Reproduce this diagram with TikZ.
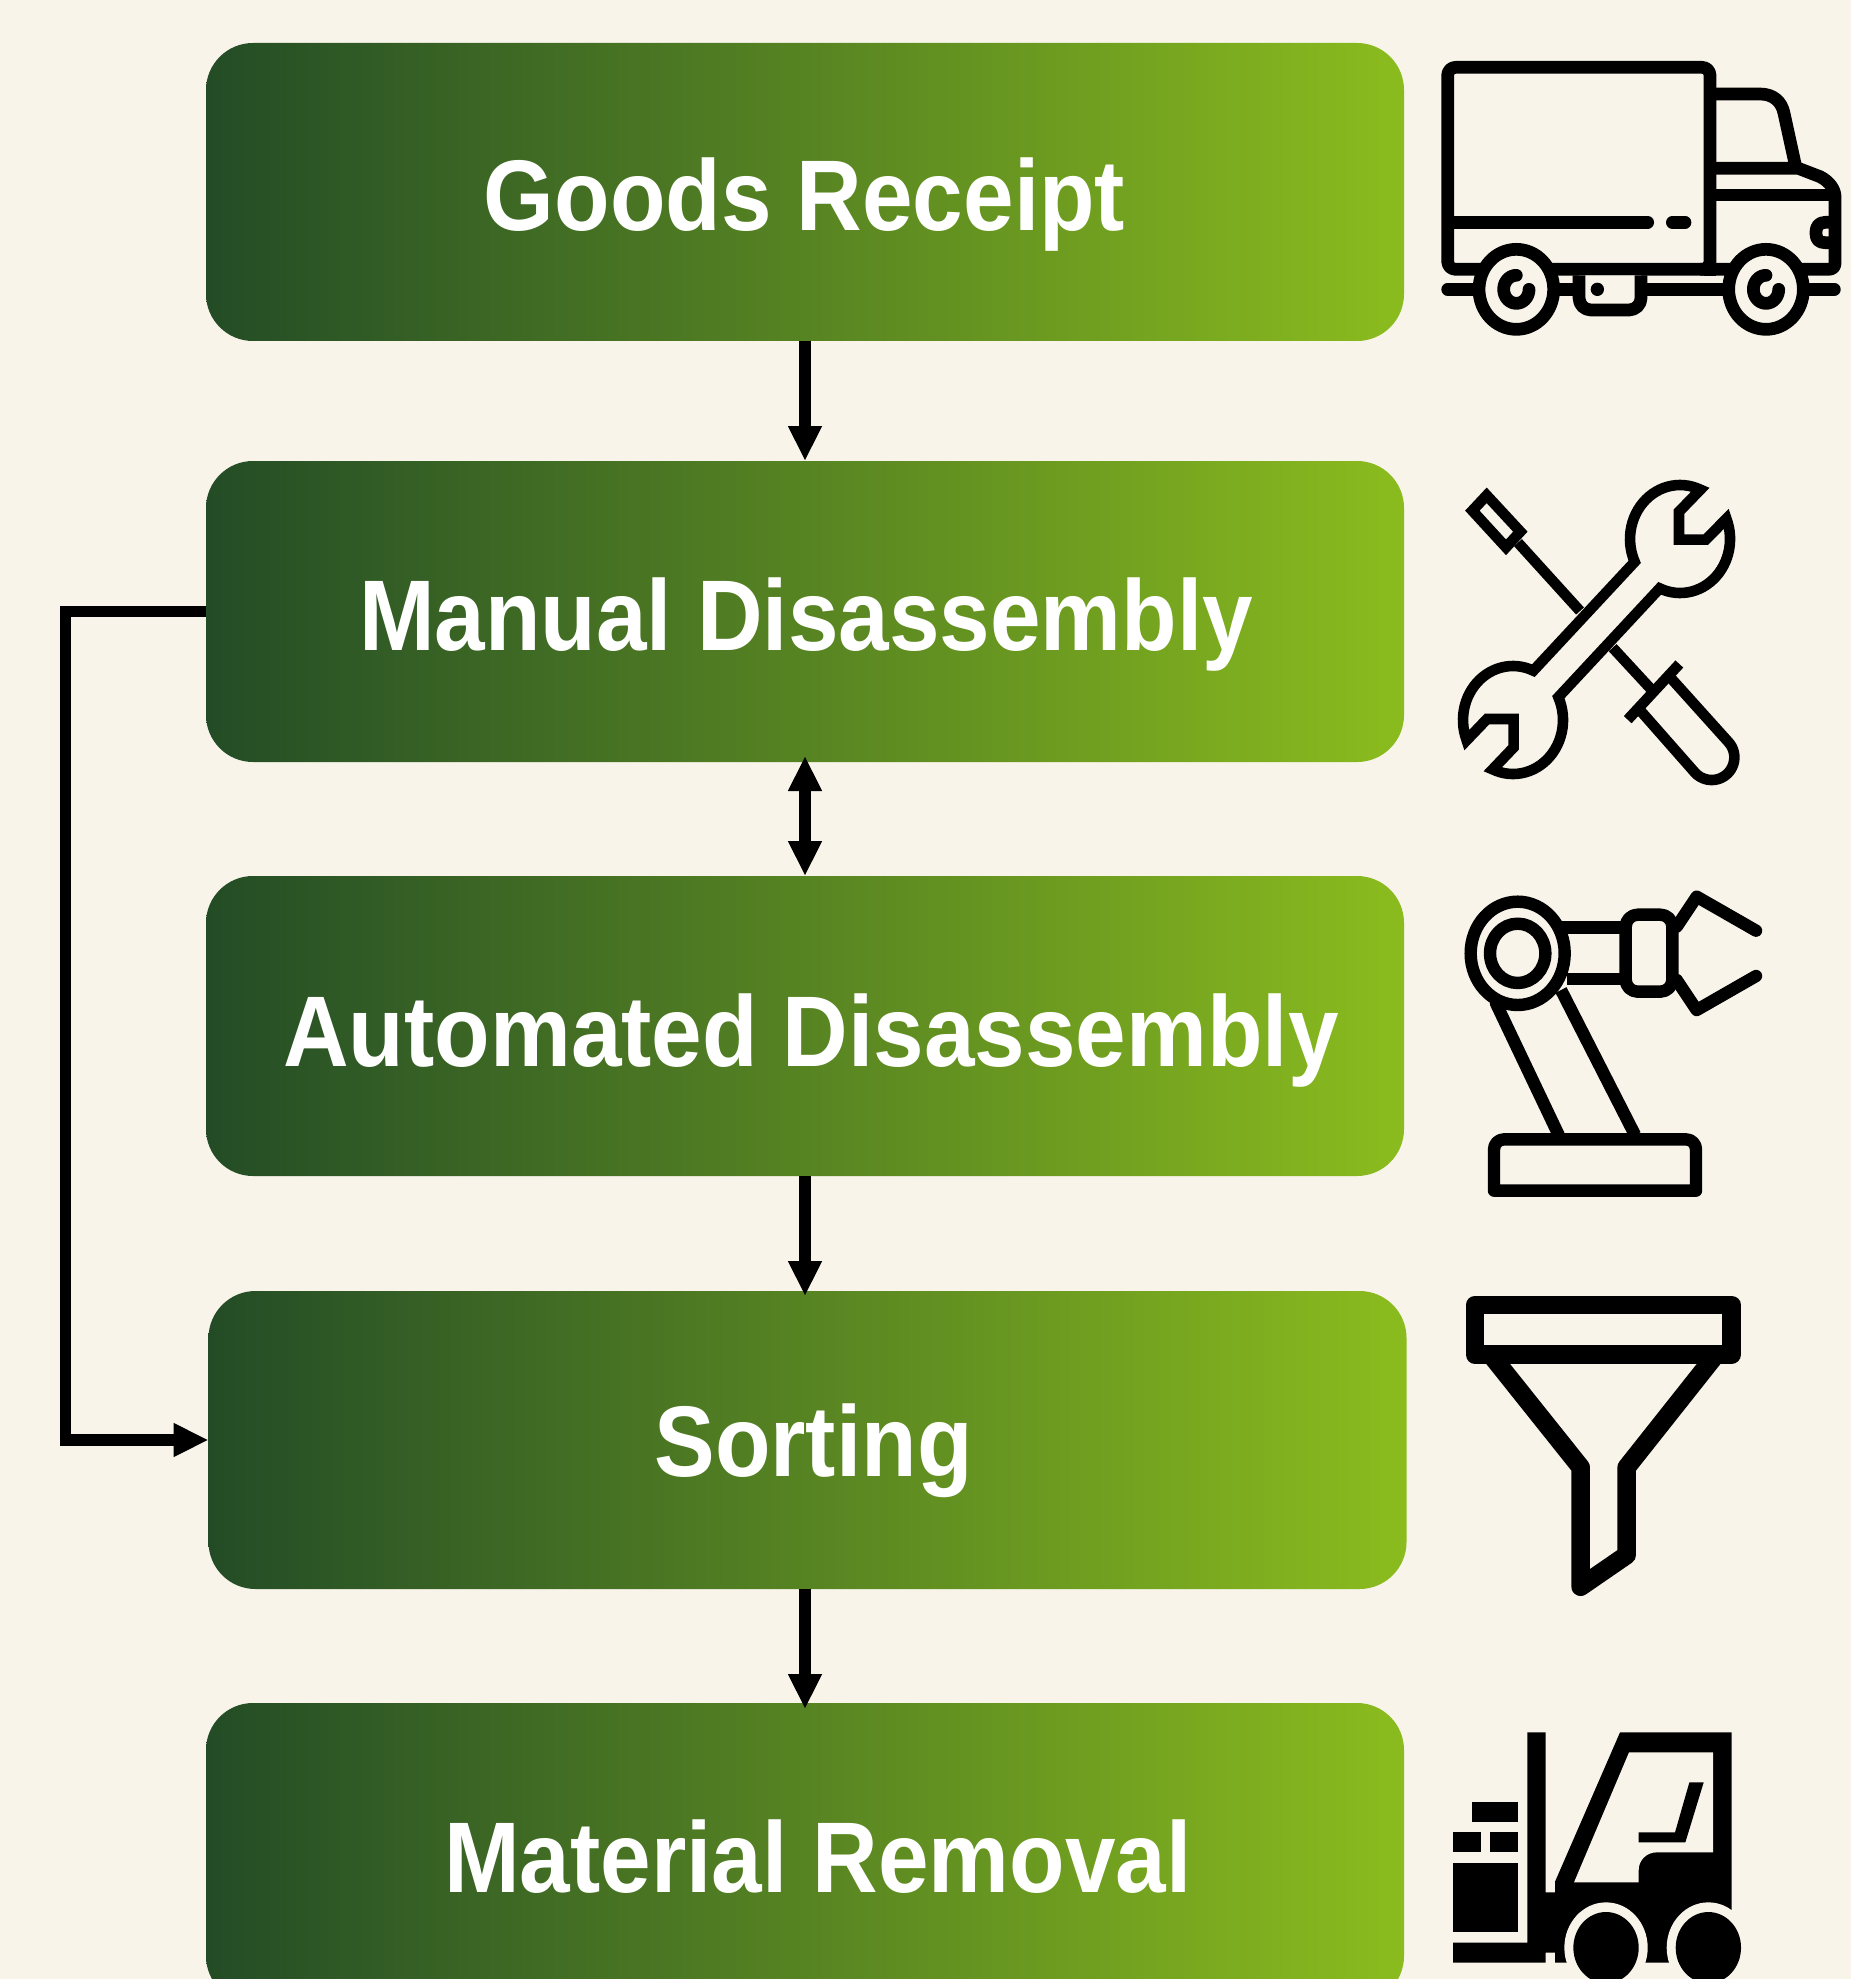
\documentclass[tikz,border=0pt]{standalone}
\usepackage{fontspec}
\setmainfont{Liberation Sans}[FakeStretch=0.905]
\usetikzlibrary{arrows.meta}
\definecolor{pagebg}{HTML}{F8F4E9}
\definecolor{gradL}{HTML}{234C26}
\definecolor{gradM}{HTML}{5A7A17}
\definecolor{gradR}{HTML}{8BBC1E}
\tikzset{
  stage/.style={rounded corners=23.5pt,left color=gradL,middle color=gradM,right color=gradR,draw=none,
    minimum width=599pt,inner sep=0pt,outer sep=0pt},
  stagetext/.style={anchor=base,text=white,font=\fontsize{50.2pt}{50.2pt}\selectfont\bfseries,inner sep=0pt},
  conn/.style={draw=black,line width=5.6pt,-{Triangle[width=15.8pt,length=17.5pt]}},
  icon/.style={shift={#1},x=0.16667pt,y=-0.16667pt},
  trk/.style={draw=black,line width=6.35pt,line join=round},
  tool/.style={draw=black,line width=5.3pt,line join=miter},
  rob/.style={draw=black,line width=6.2pt,line join=round},
  fun/.style={draw=black,line width=9.3pt,line join=round},
}
\begin{document}
\begin{tikzpicture}[x=0.5pt,y=-0.5pt]
\useasboundingbox (0,0) rectangle (1851,1979);
\clip (0,0) rectangle (1851,1979);
\fill[pagebg] (0,0) rectangle (1851,1979);

% stages
\node[stage,minimum height=149pt] (b1) at (805,192) {};
\node[stage,minimum height=150.5pt] (b2) at (805,611.5) {};
\node[stage,minimum height=150pt] (b3) at (805,1026) {};
\node[stage,minimum height=149pt] (b4) at (807.5,1440) {};
\node[stage,minimum height=150pt] (b5) at (805,1853) {};
\node[stagetext] (t1) at (804.5,231) {Goods Receipt};
\node[stagetext] (t2) at (806,650) {Manual Disassembly};
\node[stagetext] (t3) at (811,1066) {Automated Disassembly};
\node[stagetext] (t4) at (813.5,1476) {Sorting};
\node[stagetext] (t5) at (818,1892) {Material Removal};

% connectors
\coordinate (fa) at (65.5,611.5);
\coordinate (fb) at (65.5,1440);
\draw[conn] (b1.south) -- (b2.north);
\draw[conn,{Triangle[width=15.8pt,length=17.5pt]}-{Triangle[width=15.8pt,length=17.5pt]},shorten <=-3pt] (b2.south) -- (b3.north);
\draw[conn,shorten >=-2.5pt] (b3.south) -- (b4.north-|b3.south);
\draw[conn,shorten >=-3pt] (b4.south-|b5.north) -- (b5.north);
\draw[conn,line join=miter] (b2.west) -- (fa) -- (fb) -- (b4.west);

% truck
\begin{scope}[icon={(1420,30)}]
\draw[trk,rounded corners=4pt] (83,112) rectangle (870,718);
\draw[trk] (870,600) -- (870,737);
\draw[trk,line cap=round] (102,577) -- (683,577);
\draw[trk,line cap=round] (757,577) -- (795,577);
\draw[trk] (870,192) -- (1020,192) .. controls (1060,192) and (1085,215) .. (1092,250) -- (1127,410);
\draw[trk] (870,415) -- (1135,415) -- (1200,440) .. controls (1230,455) and (1245,480) .. (1245,500) -- (1245,700) .. controls (1245,712) and (1237,718) .. (1225,718) -- (840,718);
\draw[trk] (870,495) -- (1245,495);
\draw[trk] (1245,577) -- (1215,577) .. controls (1197,577) and (1188,590) .. (1188,605) -- (1188,612) .. controls (1188,628) and (1197,638) .. (1215,638) -- (1245,638);
\draw[trk,line cap=round] (83,778) -- (1243,778);
\draw[trk,fill=pagebg,rounded corners=6pt] (477,736) -- (477,840) -- (663,840) -- (663,736);
\fill[black] (532,778) circle [radius=20];
\draw[trk,fill=pagebg] (289,778) ellipse [x radius=112,y radius=120];
\draw[trk,fill=pagebg] (1038,778) ellipse [x radius=112,y radius=120];
\draw[trk,line cap=round] plot[domain=-90:-360,samples=40] ({289+38*cos(\x)},{778+42*sin(\x)});
\draw[trk,line cap=round] plot[domain=-90:-360,samples=40] ({1038+38*cos(\x)},{778+42*sin(\x)});
\end{scope}

% wrench and screwdriver
\begin{scope}[icon={(1420,460)}]
\draw[tool] (200,106) -- (301,215) -- (258,262) -- (157,152) -- cycle;
\draw[tool] (294,248) -- (480,453);
\draw[tool] (578,563) -- (700,695);
\draw[tool] (778,612) -- (623,779);
\draw[tool] (746,647) -- plot[domain=-42:138,samples=30] ({875+68*cos(\x)},{892+68*sin(\x)}) -- (655,745);
\draw[tool]
  plot[domain=155:294,samples=30] ({780+150*cos(\x)},{237+162*sin(\x)})
  -- (777,155) -- (777,239) -- (857,239)
  -- plot[domain=338:474,samples=30] ({780+150*cos(\x)},{237+162*sin(\x)})
  -- plot[domain=335:474,samples=30] ({279+150*cos(\x)},{780+162*sin(\x)})
  -- (281,862) -- (281,777) -- (201,777)
  -- plot[domain=518:654,samples=30] ({279+150*cos(\x)},{780+162*sin(\x)})
  -- cycle;
\end{scope}

% robot arm
\begin{scope}[icon={(1420,870)}]
\draw[rob] (425,172) -- (610,172);
\draw[rob] (440,327) -- (610,327);
\draw[rob] (293,250) ellipse [x radius=141,y radius=155];
\draw[rob] (293,250) ellipse [x radius=83,y radius=89];
\draw[rob,rounded corners=6pt] (617,134) rectangle (757,365);
\draw[rob,line cap=round] (770,170) -- (830,80) -- (1008,182);
\draw[rob,line cap=round] (770,330) -- (830,420) -- (1008,318);
\draw[rob,line cap=round] (228,400) -- (416,795);
\draw[rob] (423,360) -- (645,795);
\draw[rob] (222,962) -- (222,838) [rounded corners=5pt] -- (222,808) -- (828,808) [sharp corners] -- (828,962) -- cycle;
\end{scope}

% funnel
\begin{scope}[icon={(1420,1270)}]
\draw[fun] (165,105) rectangle (935,254);
\draw[fun] (217,260) -- (482,592) -- (482,950) -- (620,855) -- (620,592) -- (883,260);
\end{scope}

% forklift
\begin{scope}[icon={(1420,1700)}]
\fill[black] (155,307) rectangle (294,367);
\fill[black] (99,397) rectangle (183,457);
\fill[black] (211,397) rectangle (294,457);
\fill[black] (99,488) rectangle (294,697);
\fill[black] (99,728) -- (322,728) -- (322,97) -- (377,97) -- (377,577) -- (405,577) -- (405,545) -- (600,97) -- (935,97) -- (935,788) -- (405,788) -- (405,758) -- (377,758) -- (377,788) -- (99,788) -- cycle;
\fill[pagebg] (627,157) -- (879,157) -- (879,457) -- (710,457) .. controls (680,457) and (656,480) .. (656,510) -- (656,547) -- (462,547) -- cycle;
\fill[black] (656,397) -- (765,397) -- (808,247) -- (851,247) -- (796,427) -- (656,427) -- cycle;
\fill[pagebg] (558,743) ellipse [x radius=125,y radius=136];
\fill[pagebg] (865,743) ellipse [x radius=125,y radius=136];
\fill[black] (558,743) ellipse [x radius=98,y radius=107];
\fill[black] (865,743) ellipse [x radius=98,y radius=107];
\end{scope}
\end{tikzpicture}
\end{document}
